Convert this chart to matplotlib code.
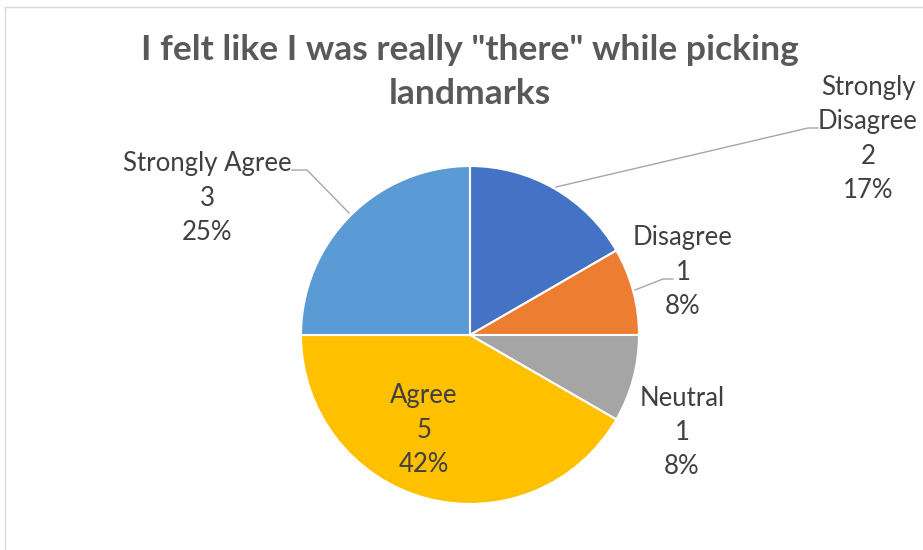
import matplotlib.pyplot as plt
from matplotlib.lines import Line2D

categories = ['Strongly Disagree', 'Disagree', 'Neutral', 'Agree', 'Strongly Agree']
counts = [2, 1, 1, 5, 3]
colors = ['#4472C4', '#ED7D31', '#A5A5A5', '#FFC000', '#5B9BD5']
title = 'I felt like I was really "there" while picking\nlandmarks'

W, H = 923, 550
fig = plt.figure(figsize=(W / 100, H / 100), dpi=100)
ax = fig.add_axes([0, 0, 1, 1])

cx, cy, r = 470, H - 335, 169
ax.pie(counts, colors=colors, startangle=90, counterclock=False,
       center=(cx, cy), radius=r,
       wedgeprops=dict(edgecolor='white', linewidth=1.5))
ax.set_xlim(0, W)
ax.set_ylim(0, H)
ax.set_aspect('auto')
ax.axis('off')

# chart frame
fig.add_artist(Line2D([5, W], [H - 7, H - 7], transform=ax.transData, color='#D9D9D9', lw=1))
fig.add_artist(Line2D([5, 5], [0, H - 7], transform=ax.transData, color='#D9D9D9', lw=1))

ax.text(470, H - 72, title, ha='center', va='center', fontsize=25.5, fontweight='bold',
        color='#595959', family='Lato', linespacing=1.46)

total = sum(counts)
label_pos = {
    'Strongly Disagree': (868, 139),
    'Disagree': (683, 272),
    'Neutral': (682, 432),
    'Agree': (424, 430),
    'Strongly Agree': (207, 198),
}
label_text = {'Strongly Disagree': 'Strongly\nDisagree'}
for cat, n in zip(categories, counts):
    x, y = label_pos[cat]
    pct = round(100 * n / total)
    s = f"{label_text.get(cat, cat)}\n{n}\n{pct}%"
    ax.text(x, H - y, s, ha='center', va='center', fontsize=18.5, color='#404040',
            family='Lato', linespacing=1.45)

# leader lines
leader = dict(color='#A6A6A6', lw=1)
ax.plot([556, 808, 818], [H - 187, H - 128, H - 128], **leader)
ax.plot([635, 663, 673], [H - 290, H - 279, H - 279], **leader)
ax.plot([349, 307, 292], [H - 213, H - 170, H - 170], **leader)

fig.savefig('out.png', dpi=100, facecolor='white')
